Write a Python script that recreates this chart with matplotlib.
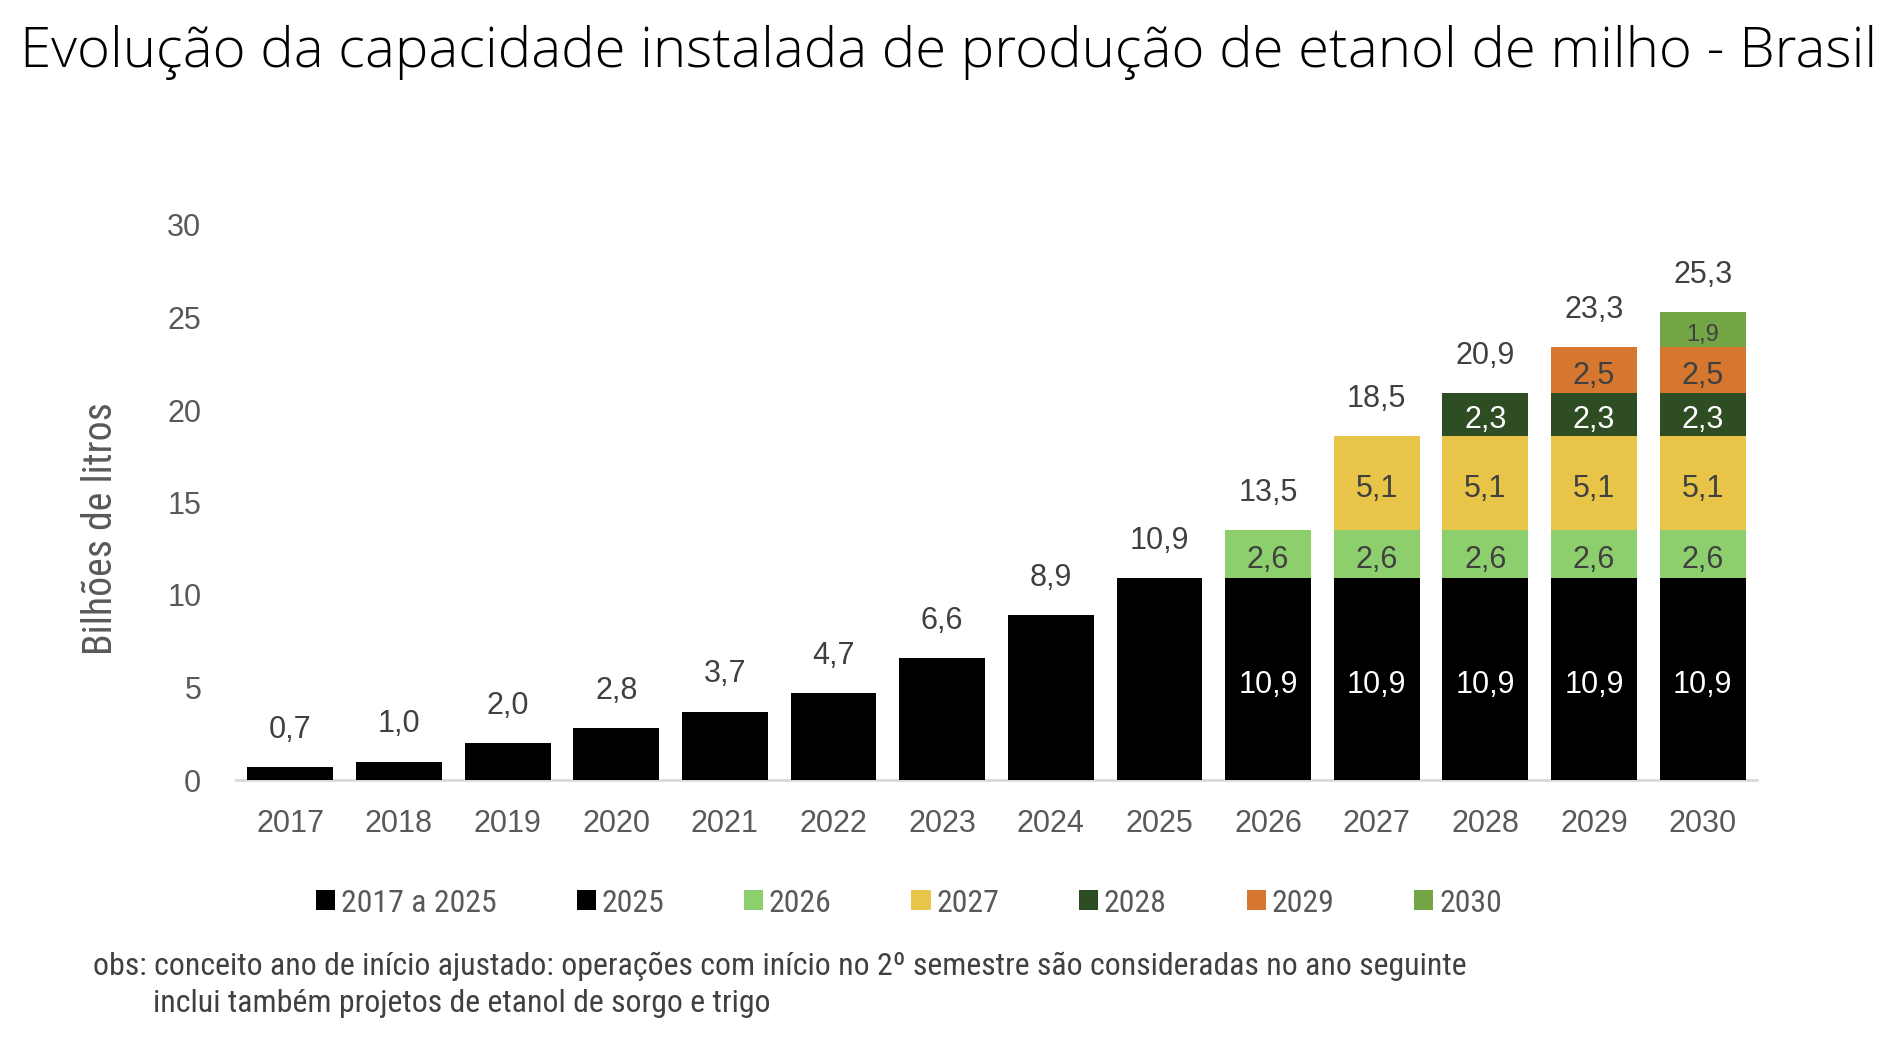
import matplotlib
matplotlib.use('Agg')
import matplotlib.pyplot as plt
from matplotlib import font_manager as fm
from matplotlib.patches import Patch

# --- dados (bilhões de litros) ---
anos = ['2017', '2018', '2019', '2020', '2021', '2022', '2023',
        '2024', '2025', '2026', '2027', '2028', '2029', '2030']
s_2017_2025 = [0.7, 1.0, 2.0, 2.8, 3.7, 4.7, 6.6, 8.9, 10.9, 0, 0, 0, 0, 0]
s_2025 = [0, 0, 0, 0, 0, 0, 0, 0, 0, 10.9, 10.9, 10.9, 10.9, 10.9]
s_2026 = [0, 0, 0, 0, 0, 0, 0, 0, 0, 2.6, 2.6, 2.6, 2.6, 2.6]
s_2027 = [0, 0, 0, 0, 0, 0, 0, 0, 0, 0, 5.1, 5.1, 5.1, 5.1]
s_2028 = [0, 0, 0, 0, 0, 0, 0, 0, 0, 0, 0, 2.3, 2.3, 2.3]
s_2029 = [0, 0, 0, 0, 0, 0, 0, 0, 0, 0, 0, 0, 2.5, 2.5]
s_2030 = [0, 0, 0, 0, 0, 0, 0, 0, 0, 0, 0, 0, 0, 1.9]
totais = [0.7, 1.0, 2.0, 2.8, 3.7, 4.7, 6.6, 8.9, 10.9, 13.5, 18.5, 20.9, 23.3, 25.3]

series = [
    ('2017 a 2025', s_2017_2025, '#000000', None),
    ('2025', s_2025, '#000000', 'white'),
    ('2026', s_2026, '#8dcf6d', '#404040'),
    ('2027', s_2027, '#e8c448', '#404040'),
    ('2028', s_2028, '#2f4d22', 'white'),
    ('2029', s_2029, '#d6772f', '#404040'),
    ('2030', s_2030, '#74a545', '#404040'),
]

# fontes disponiveis
nomes = {f.name for f in fm.fontManager.ttflist}
def escolhe(opcoes, padrao='DejaVu Sans'):
    for n in opcoes:
        if n in nomes:
            return n
    return padrao

f_titulo = escolhe(['Open Sans', 'Noto Sans', 'Lato'])
f_arial = escolhe(['Liberation Sans', 'Arimo', 'DejaVu Sans'])
f_estreita = escolhe(['Roboto Condensed', 'Liberation Sans Narrow', 'Open Sans Condensed',
                      'Roboto', 'Lato'])

W, H = 1894, 1040
fig = plt.figure(figsize=(W / 100, H / 100), dpi=100)
ax = fig.add_axes([236 / W, 1 - 780 / H, 1521 / W, 555 / H])

x = range(len(anos))
base = [0.0] * len(anos)
conts = []
for nome, vals, cor, cor_txt in series:
    c = ax.bar(x, vals, width=0.79, bottom=base, color=cor, edgecolor='none',
               label=nome, zorder=3)
    conts.append(c)
    if cor_txt is not None:
        labs = [f'{v:.1f}'.replace('.', ',') if v > 0 else '' for v in vals]
        fs = 17 if nome == '2030' else 22
        anns = ax.bar_label(c, labels=labs, label_type='center', color=cor_txt,
                            fontsize=fs, family=f_arial)
        for a in anns:
            a.xyann = (0, -4)   # rótulo um pouco abaixo do centro, como no Excel
    base = [b + v for b, v in zip(base, vals)]

# totais acima das barras
ax.bar_label(conts[-1], labels=[f'{t:.1f}'.replace('.', ',') for t in totais],
             padding=16, color='#404040', fontsize=22, family=f_arial)

ax.set_xlim(-0.5, len(anos) - 0.5)
ax.set_ylim(0, 30)
ax.set_yticks(range(0, 31, 5))
ax.set_xticks(list(x))
ax.set_xticklabels(anos)
for s in ['top', 'right', 'left']:
    ax.spines[s].set_visible(False)
ax.spines['bottom'].set_color('#d9d9d9')
ax.spines['bottom'].set_linewidth(2)
ax.spines['bottom'].set_zorder(1)
ax.tick_params(axis='both', length=0, labelsize=22, labelcolor='#595959')
ax.tick_params(axis='x', pad=21)
ax.tick_params(axis='y', pad=25)
for t in ax.get_xticklabels() + ax.get_yticklabels():
    t.set_family(f_arial)

renderer = fig.canvas.get_renderer()

def ajusta(txt, alvo, vertical=False):
    bb = txt.get_window_extent(renderer)
    med = bb.height if vertical else bb.width
    txt.set_fontsize(txt.get_fontsize() * alvo / med)

titulo = fig.text(20 / W, 1 - 67 / H,
                  'Evolução da capacidade instalada de produção de etanol de milho - Brasil',
                  ha='left', va='baseline', fontsize=50, family=f_titulo,
                  fontweight='light', color='black')
ajusta(titulo, 1858)

ylab = fig.text(101 / W, 1 - 529 / H, 'Bilhões de litros', rotation=90,
                ha='center', va='center', fontsize=22, family=f_estreita, color='#595959')
ajusta(ylab, 253, vertical=True)

# legenda: tamanho da fonte ajustado pela largura de "2017 a 2025"
amostra = fig.text(0, 0, '2017 a 2025', fontsize=22, family=f_estreita)
ajusta(amostra, 156)
fs_leg = amostra.get_fontsize()
amostra.remove()

handles = [Patch(facecolor=cor, edgecolor='none') for _, _, cor, _ in series]
rotulos = [nome for nome, _, _, _ in series]
leg = fig.legend(handles, rotulos, loc='center', bbox_to_anchor=(909 / W, 1 - 903 / H),
                 ncol=7, frameon=False, handlelength=0.6, handleheight=0.6,
                 handletextpad=0.18, columnspacing=2.5, borderpad=0,
                 prop={'family': f_estreita, 'size': fs_leg})
for t in leg.get_texts():
    t.set_color('#595959')

nota1 = fig.text(93 / W, 1 - 975 / H,
                 'obs: conceito ano de início ajustado: operações com início no 2º semestre '
                 'são consideradas no ano seguinte',
                 ha='left', va='baseline', fontsize=20, family=f_estreita, color='#404040')
ajusta(nota1, 1372)
fig.text(153 / W, 1 - 1012 / H, 'inclui também projetos de etanol de sorgo e trigo',
         ha='left', va='baseline', fontsize=nota1.get_fontsize(), family=f_estreita,
         color='#404040')

fig.savefig('out.png', dpi=100)
